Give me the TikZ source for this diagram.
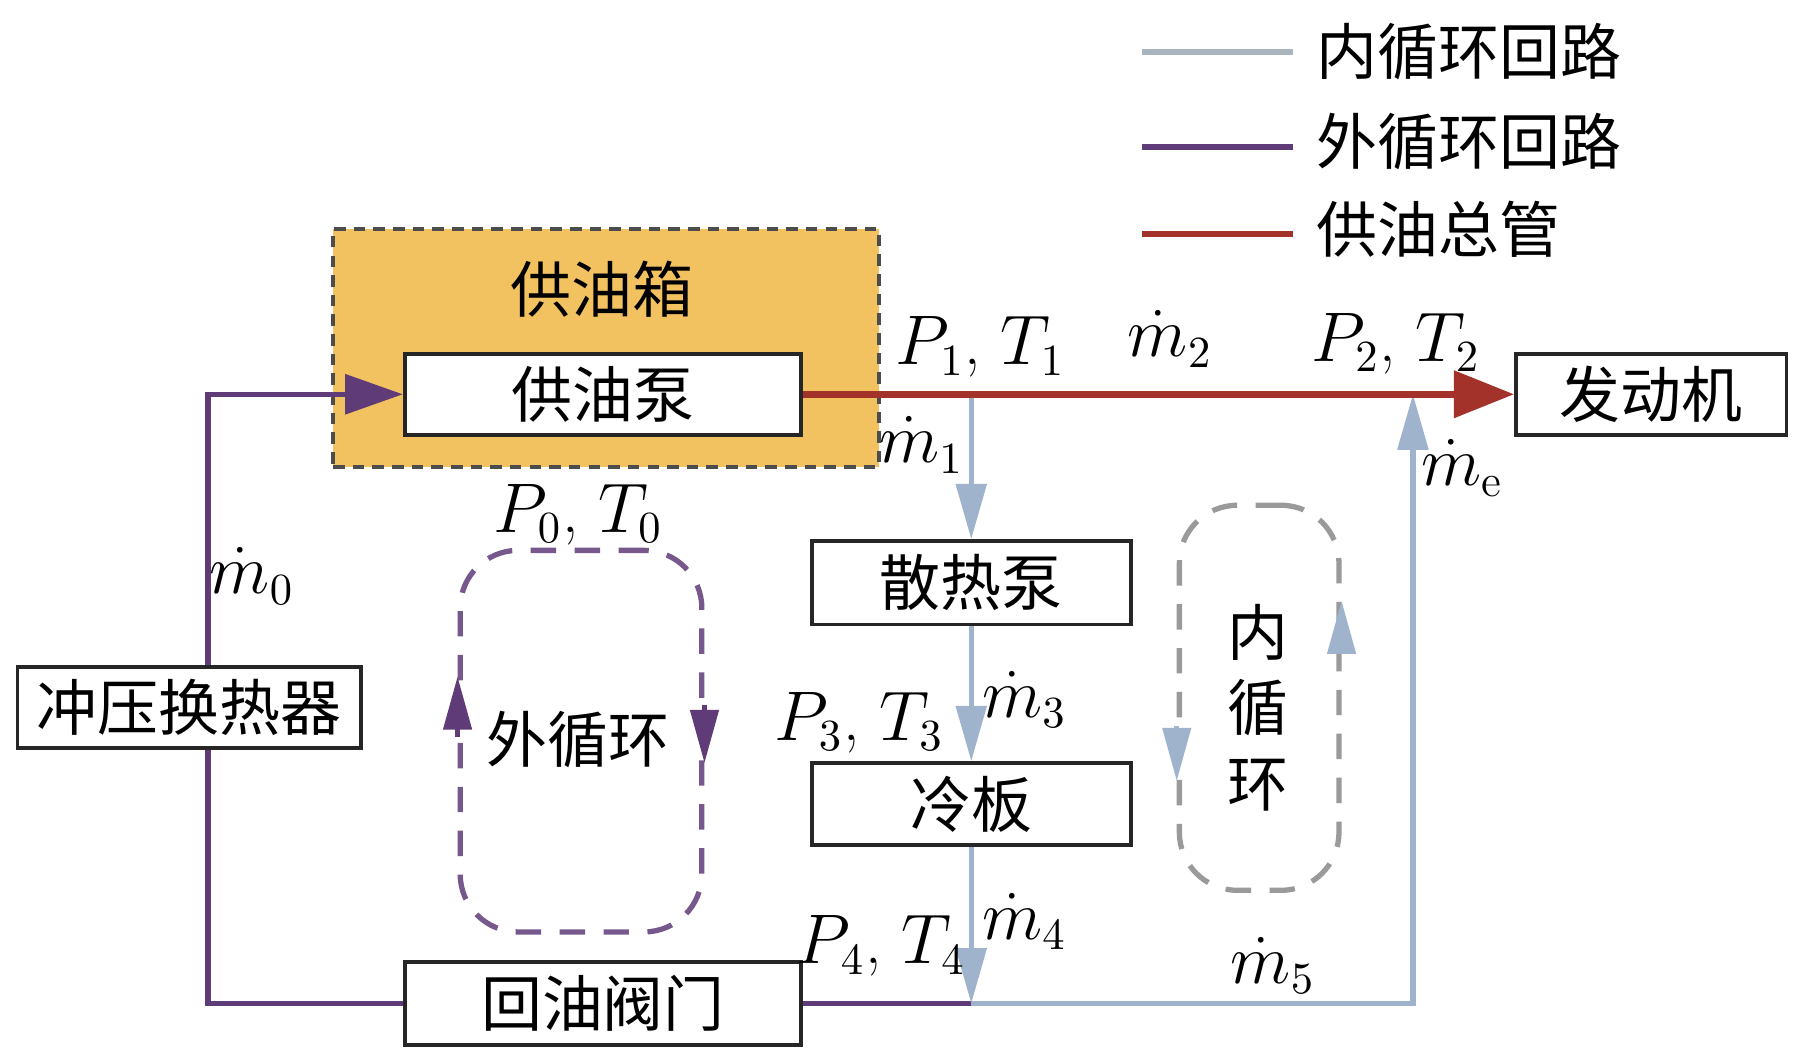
\documentclass[tikz,border=0pt]{standalone}
\usepackage{fontspec}
\newfontfamily\cjk{Noto Sans CJK SC}
\usepackage{amsmath}
\usepackage{tikz}
\usetikzlibrary{arrows.meta}
\usetikzlibrary{backgrounds}
\usetikzlibrary{calc}

\definecolor{tankfill}{HTML}{F2C160}
\definecolor{mainred}{HTML}{A3322A}
\definecolor{outerpurple}{HTML}{5F3B78}
\definecolor{innerblue}{HTML}{9FB4CC}
\definecolor{legendgray}{HTML}{A9B4BE}
\definecolor{loopgray}{HTML}{9A9A9A}

\begin{document}
\begin{tikzpicture}[
    x=0.1mm, y=-0.1mm,
    % 部件方框样式
    box style/.style={
        draw=black!85,       % 深色边框
        fill=white,          % 白色填充
        line width=0.9pt,    % 边框线宽
        minimum height=7mm,  % 方框高度
        inner sep=0pt,
        font=\cjk\fontsize{15}{18}\selectfont
    },
    % 中文文字样式
    cjk text/.style={font=\cjk\fontsize{15}{18}\selectfont, inner sep=0pt},
    % 参数标注样式
    param label/.style={font=\fontsize{16}{19}\selectfont, inner sep=0pt},
    % 供油总管
    main pipe/.style={draw=mainred, line width=1.6pt},
    main arrow/.style={main pipe, -{Triangle[length=5.2mm, width=4mm]}},
    % 外循环回路
    outer pipe/.style={draw=outerpurple, line width=1.3pt},
    outer arrow/.style={outer pipe, -{Triangle[length=5mm, width=3.4mm]}},
    % 内循环回路
    inner pipe/.style={draw=innerblue, line width=1.3pt},
    inner arrow/.style={inner pipe, -{Triangle[length=4.8mm, width=2.6mm]}},
    % 循环示意虚线框
    loop box/.style={
        draw, dashed, dash pattern=on 2.2mm off 1.6mm,
        line width=1.3pt, rounded corners=5mm, inner sep=0pt
    },
    outer loop arrow/.style={draw=outerpurple, line width=1.3pt, -{Triangle[length=4.6mm, width=2.4mm]}},
    inner loop arrow/.style={draw=innerblue, line width=1.3pt, -{Triangle[length=4.6mm, width=2.4mm]}}
]

\useasboundingbox (0,0) rectangle (1568,918);

% 图例
\coordinate (lg1a) at (988,45);   \coordinate (lg1b) at (1118,45);
\coordinate (lg2a) at (988,127);  \coordinate (lg2b) at (1118,127);
\coordinate (lg3a) at (988,202);  \coordinate (lg3b) at (1118,202);
\draw[draw=legendgray, line width=1.5pt] (lg1a) -- (lg1b);
\draw[draw=outerpurple, line width=1.5pt] (lg2a) -- (lg2b);
\draw[draw=mainred, line width=1.5pt] (lg3a) -- (lg3b);
\node[cjk text, anchor=west] (lgt1) at (1138,45) {内循环回路};
\node[cjk text, anchor=west] (lgt2) at (1138,122) {外循环回路};
\node[cjk text, anchor=west] (lgt3) at (1138,198) {供油总管};

% 供油箱
\node[draw=black!70, fill=tankfill, dashed, dash pattern=on 1mm off 0.7mm,
      line width=1pt, minimum width=47.2mm, minimum height=20.6mm, inner sep=0pt] (tank) at (524,301) {};
\node[cjk text] (tanklabel) at (521,250) {供油箱};

% 部件
\node[box style, minimum width=34.3mm] (pump) at (521.5,341) {供油泵};
\node[box style, minimum width=23.4mm] (engine) at (1428,341) {发动机};
\node[box style, minimum width=29.7mm] (hx) at (163.5,612) {冲压换热器};
\node[box style, minimum width=34.3mm, minimum height=7.2mm] (valve) at (521.5,868) {回油阀门};
\node[box style, minimum width=27.6mm, minimum height=7.2mm] (rpump) at (840,504) {散热泵};
\node[box style, minimum width=27.6mm, minimum height=7.1mm] (plate) at (840,695.5) {冷板};

% 管路节点
\coordinate (c1) at (180,341);
\coordinate (c2) at (180,868);
\coordinate (j1) at (840,341);
\coordinate (j4) at (840,868);
\coordinate (j5) at (1222,868);
\coordinate (je) at (1222,341);

% 外循环回路
\draw[outer arrow] (hx.north -| c1) -- (c1) -- (pump.west);
\draw[outer pipe] (hx.south -| c2) -- (c2) -- (valve.west);
\draw[outer pipe] (valve.east) -- (j4);

% 内循环回路
\draw[inner arrow] (j1) -- (rpump.north);
\draw[inner arrow] (rpump.south) -- (plate.north);
\draw[inner arrow] (plate.south) -- (j4);
\draw[inner arrow] (j4) -- (j5) -- (je);

% 供油总管
\draw[main arrow] (pump.east) -- (engine.west);

% 循环示意
\node[loop box, draw=outerpurple!85, minimum width=20.9mm, minimum height=33mm] (oloop) at (502.5,641) {};
\draw[outer loop arrow] ([yshift=0.4mm]oloop.west) -- ([yshift=5.6mm]oloop.west);
\draw[outer loop arrow] ([yshift=3.1mm]oloop.east) -- ([yshift=-1.9mm]oloop.east);
\node[cjk text] (olooplabel) at (500,640) {外循环};

\node[loop box, draw=loopgray, minimum width=13.8mm, minimum height=33.3mm] (iloop) at (1089,603.5) {};
\draw[inner loop arrow] ([yshift=-2.4mm]iloop.west) -- ([yshift=-7.2mm]iloop.west);
\draw[inner loop arrow] ([yshift=3.9mm]iloop.east) -- ([yshift=8.4mm]iloop.east);
\node[cjk text, align=center, font=\cjk\fontsize{15}{18.5}\selectfont] (ilooplabel) at (1088,612) {内\\循\\环};

% 参数标注
\node[param label] (pt1) at (848,300) {$P_1$, $T_1$};
\node[param label] (m2) at (1012,293) {$\dot{m}_2$};
\node[param label] (pt2) at (1207,297) {$P_2$, $T_2$};
\node[param label] (m1) at (797,385) {$\dot{m}_1$};
\node[param label] (me) at (1265,405) {$\dot{m}_{\mathrm{e}}$};
\node[param label] (pt0) at (500,445) {$P_0$, $T_0$};
\node[param label] (m0) at (218,498) {$\dot{m}_0$};
\node[param label] (pt3) at (743,625) {$P_3$, $T_3$};
\node[param label] (m3) at (886,605) {$\dot{m}_3$};
\node[param label] (pt4) at (762,818) {$P_4$, $T_4$};
\node[param label] (m4) at (886,797) {$\dot{m}_4$};
\node[param label] (m5) at (1101,835) {$\dot{m}_5$};

\end{tikzpicture}
\end{document}
